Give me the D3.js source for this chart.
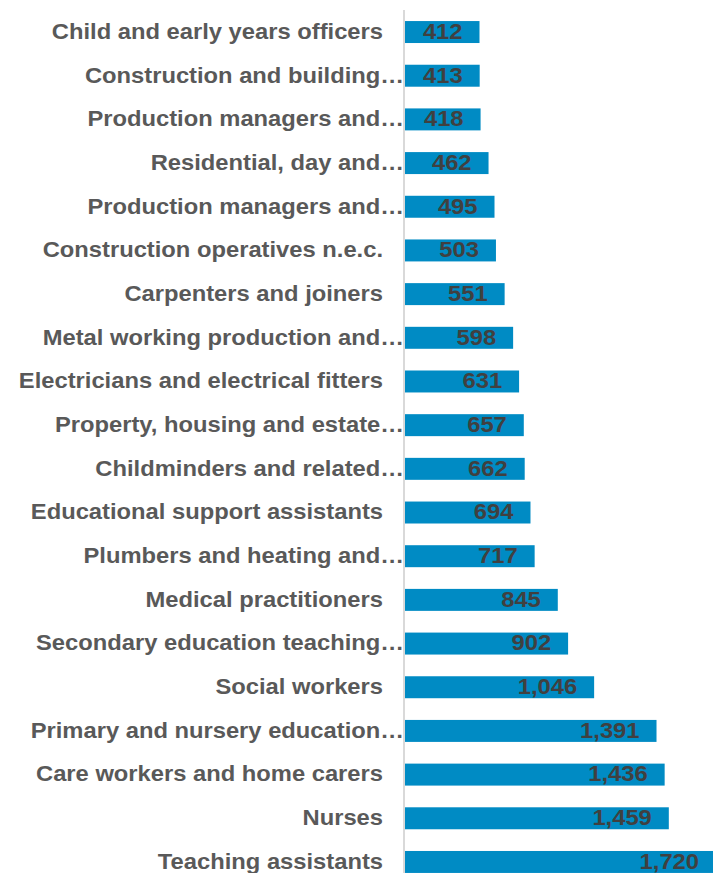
<!DOCTYPE html>
<html>
<head>
<meta charset="utf-8">
<script src="https://cdn.jsdelivr.net/npm/d3@7"></script>
<style>
  html, body { margin: 0; padding: 0; background: #ffffff; }
  svg { display: block; }
</style>
</head>
<body>
<svg id="chart" width="713" height="873"></svg>
<script>
// Occupations (top to bottom) and their counts
const occupations = [
  "Child and early years officers",
  "Construction and building…",
  "Production managers and…",
  "Residential, day and…",
  "Production managers and…",
  "Construction operatives n.e.c.",
  "Carpenters and joiners",
  "Metal working production and…",
  "Electricians and electrical fitters",
  "Property, housing and estate…",
  "Childminders and related…",
  "Educational support assistants",
  "Plumbers and heating and…",
  "Medical practitioners",
  "Secondary education teaching…",
  "Social workers",
  "Primary and nursery education…",
  "Care workers and home carers",
  "Nurses",
  "Teaching assistants"
];
const counts = [412, 413, 418, 462, 495, 503, 551, 598, 631, 657, 662, 694, 717, 845, 902, 1046, 1391, 1436, 1459, 1720];

const data = occupations.map((name, i) => ({ name, value: counts[i], key: i }));

const svg = d3.select("#chart");
const axisX = 404;
const fontSize = 22;
const stretch = 1.08; // slightly wide lettering

const x = d3.scaleLinear().domain([0, 1720]).range([axisX + 1, 716]);
const y = d3.scaleBand()
  .domain(data.map(d => d.key))
  .range([10.2, 10.2 + 43.68 * data.length])
  .paddingInner(0.497)
  .paddingOuter(0.2485);

// bars
svg.append("g").selectAll("rect")
  .data(data)
  .join("rect")
  .attr("x", x(0))
  .attr("y", d => y(d.key))
  .attr("width", d => x(d.value) - x(0))
  .attr("height", y.bandwidth())
  .attr("fill", "#008bc4");

// category axis line
svg.append("line")
  .attr("x1", axisX).attr("x2", axisX)
  .attr("y1", 10).attr("y2", 873)
  .attr("stroke", "#d9d9d9")
  .attr("stroke-width", 2);

function placeText(sel, xFn) {
  sel.attr("transform", d => `translate(${xFn(d)},${y(d.key) + y.bandwidth() / 2}) scale(${stretch},1)`)
    .attr("dy", "0.31em")
    .attr("text-anchor", "end")
    .attr("font-family", "'Liberation Sans', Arial, sans-serif")
    .attr("font-weight", "bold")
    .attr("font-size", fontSize);
}

// category labels
svg.append("g").selectAll("text")
  .data(data)
  .join("text")
  .call(placeText, d => d.name.endsWith("…") ? axisX : axisX - 21)
  .attr("fill", "#595959")
  .text(d => d.name);

// value labels inside bar ends
const fmt = d3.format(",");
svg.append("g").selectAll("text")
  .data(data)
  .join("text")
  .call(placeText, d => x(d.value) - 17)
  .attr("fill", "#404040")
  .text(d => fmt(d.value));
</script>
</body>
</html>
